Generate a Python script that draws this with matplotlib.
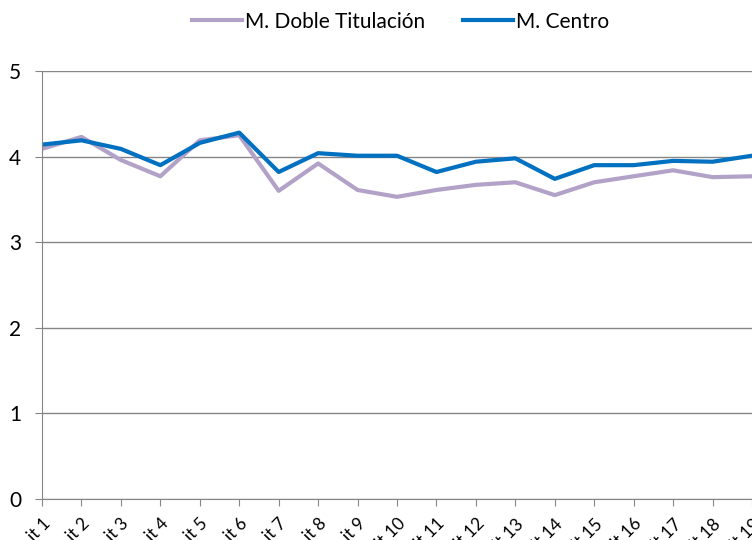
import matplotlib.pyplot as plt

labels = [f'it {i}' for i in range(1, 20)]
doble = [4.09, 4.23, 3.96, 3.77, 4.19, 4.25, 3.60, 3.92, 3.61, 3.53,
         3.61, 3.67, 3.70, 3.55, 3.70, 3.77, 3.84, 3.76, 3.77]
centro = [4.14, 4.19, 4.09, 3.90, 4.16, 4.28, 3.82, 4.04, 4.01, 4.01,
          3.82, 3.94, 3.98, 3.74, 3.90, 3.90, 3.95, 3.94, 4.01]

plt.rcParams['font.family'] = ['Lato', 'DejaVu Sans']

fig = plt.figure(figsize=(7.52, 5.4), dpi=100)
ax = fig.add_axes([42 / 752, 41 / 540, 710 / 752, 428 / 540])

x = range(len(labels))
ax.plot(x, doble, color='#b3a2c7', lw=3, label='M. Doble Titulación')
ax.plot(x, centro, color='#0070c0', lw=3, label='M. Centro')

ax.set_xlim(0, 18)
ax.set_ylim(0, 5)
ax.set_yticks(range(6))
ax.yaxis.grid(True, color='#868686', lw=1)
ax.set_axisbelow(True)
for s in ('top', 'right'):
    ax.spines[s].set_visible(False)
for s in ('left', 'bottom'):
    ax.spines[s].set_color('#868686')
ax.tick_params(axis='both', color='#868686', length=5, labelsize=15)
ax.tick_params(axis='y', pad=10)
ax.tick_params(axis='x', pad=7)
ax.set_xticks(list(x))
ax.set_xticklabels(labels, rotation=45, ha='right', va='top',
                   rotation_mode='anchor', fontsize=12.5)

ax.legend(loc='center', bbox_to_anchor=(0.505, 1.115),
          ncol=2, frameon=False, fontsize=15, handlelength=2.4,
          handletextpad=0.15, columnspacing=1.8)

fig.savefig('out.png', dpi=100)
